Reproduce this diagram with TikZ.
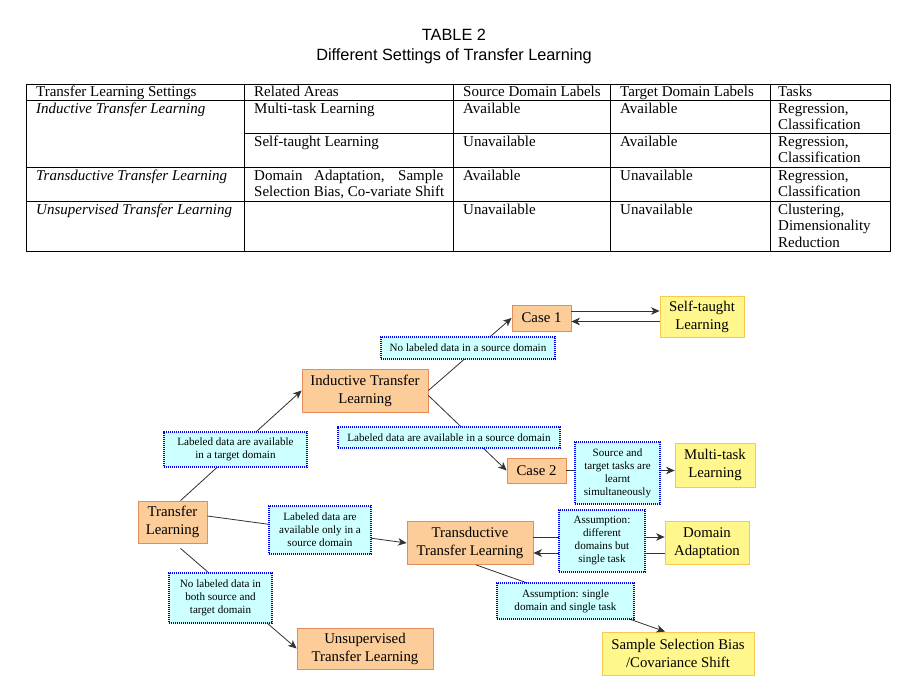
\documentclass[tikz,border=0pt]{standalone}
\usepackage{fontspec}
\setmainfont{Liberation Serif}
\newfontfamily\titlefont{Liberation Sans}
\usetikzlibrary{arrows.meta,calc}
\definecolor{orfill}{RGB}{252,204,153}
\definecolor{ordraw}{RGB}{228,140,90}
\definecolor{yefill}{RGB}{255,246,140}
\definecolor{yedraw}{RGB}{248,200,80}
\definecolor{cyfill}{RGB}{204,255,255}
\definecolor{bldraw}{RGB}{0,0,240}
\definecolor{lnc}{RGB}{50,50,50}
\begin{document}
\begin{tikzpicture}[x=1pt,y=-1pt,
 tabtxt/.style={anchor=base west,inner sep=0pt,font=\fontsize{15}{16}\selectfont},
 tabit/.style={anchor=base west,inner sep=0pt,font=\fontsize{15}{16}\selectfont\itshape},
 ttl/.style={anchor=base,inner sep=0pt,font=\titlefont\fontsize{16.3}{19}\selectfont},
 grid/.style={line width=0.8pt,black},
 obox/.style={draw=ordraw,fill=orfill,line width=0.8pt,align=center,inner sep=0pt,font=\fontsize{14.8}{18}\selectfont},
 ybox/.style={draw=yedraw,fill=yefill,line width=0.8pt,align=center,inner sep=0pt,font=\fontsize{14.8}{18}\selectfont},
 lbox/.style={draw=bldraw,fill=cyfill,line width=1.5pt,dash pattern=on 1.2pt off 0.8pt,align=center,inner sep=0pt,font=\fontsize{11.1}{13}\selectfont},
 conn/.style={draw=lnc,line width=0.8pt},
 arr/.style={conn,-{Stealth[length=8.5pt,width=7.5pt,inset=2.5pt]}}]
\fill[white] (0,0) rectangle (905,693);
\useasboundingbox (0,0) rectangle (905,693);

% title
\node[ttl] (title1) at (454,40.5) {TABLE 2};
\node[ttl] (title2) at (454,60) {Different Settings of Transfer Learning};

% table grid
\draw[grid] (26,84) rectangle (890,251);
\draw[grid] (26,100) -- (890,100);
\draw[grid] (244,133) -- (890,133);
\draw[grid] (26,167) -- (890,167);
\draw[grid] (26,201) -- (890,201);
\foreach \xx in {244,453,610,770} \draw[grid] (\xx,84) -- (\xx,251);

% header
\node[tabtxt] (h1) at (36,96) {Transfer Learning Settings};
\node[tabtxt] (h2) at (254,96) {Related Areas};
\node[tabtxt] (h3) at (463,96) {Source Domain Labels};
\node[tabtxt] (h4) at (620,96) {Target Domain Labels};
\node[tabtxt] (h5) at (778,96) {Tasks};
% row 1
\node[tabit] (a1) at (36,113) {Inductive Transfer Learning};
\node[tabtxt] (a2) at (254,113) {Multi-task Learning};
\node[tabtxt] (a3) at (463,113) {Available};
\node[tabtxt] (a4) at (620,113) {Available};
\node[tabtxt] (a5) at (778,113) {Regression,};
\node[tabtxt] (a6) at (778,129) {Classification};
% row 2
\node[tabtxt] (b2) at (254,146) {Self-taught Learning};
\node[tabtxt] (b3) at (463,146) {Unavailable};
\node[tabtxt] (b4) at (620,146) {Available};
\node[tabtxt] (b5) at (778,146) {Regression,};
\node[tabtxt] (b6) at (778,162) {Classification};
% row 3
\node[tabit] (c1) at (36,180) {Transductive Transfer Learning};
\node[tabtxt] (c2) at (254,180) {\makebox[189pt][s]{Domain Adaptation, Sample}};
\node[tabtxt] (c2b) at (254,196) {Selection Bias, Co-variate Shift};
\node[tabtxt] (c3) at (463,180) {Available};
\node[tabtxt] (c4) at (620,180) {Unavailable};
\node[tabtxt] (c5) at (778,180) {Regression,};
\node[tabtxt] (c6) at (778,196) {Classification};
% row 4
\node[tabit] (d1) at (36,214) {Unsupervised Transfer Learning};
\node[tabtxt] (d3) at (463,214) {Unavailable};
\node[tabtxt] (d4) at (620,214) {Unavailable};
\node[tabtxt] (d5) at (778,214) {Clustering,};
\node[tabtxt] (d6) at (778,230.5) {Dimensionality};
\node[tabtxt] (d7) at (778,247) {Reduction};

% main nodes
\node[obox,minimum width=69pt,minimum height=42pt] (tl) at (172.5,522) {Transfer\\Learning};
\node[obox,minimum width=126pt,minimum height=43pt] (ind) at (365,390.5) {Inductive Transfer\\Learning};
\node[obox,minimum width=59pt,minimum height=26pt] (case1) at (541.5,318) {Case 1};
\node[ybox,minimum width=84pt,minimum height=41pt] (self) at (702,316.5) {Self-taught\\Learning};
\node[obox,minimum width=59pt,minimum height=25pt] (case2) at (536.5,470.5) {Case 2};
\node[ybox,minimum width=80pt,minimum height=44pt] (multi) at (715,465) {Multi-task\\Learning};
\node[obox,minimum width=126pt,minimum height=43pt] (trans) at (470,543) {Transductive\\Transfer Learning};
\node[ybox,minimum width=84pt,minimum height=43pt] (da) at (707,543) {Domain\\Adaptation};
\node[obox,minimum width=136pt,minimum height=41pt] (unsup) at (365,648.5) {Unsupervised\\Transfer Learning};
\node[ybox,minimum width=152pt,minimum height=43pt] (ssb) at (678,653.5) {Sample Selection Bias\\/Covariance Shift};

% connectors
\draw[arr] ([xshift=8pt]tl.north) -- (ind.west);
\draw[arr] (ind.east) -- (case1.west);
\draw[arr] ([yshift=-5pt]ind.east) -- (case2.west);
\draw[arr] ([yshift=7pt]case1.east) -- ([yshift=7pt]case1.east -| self.west);
\draw[arr] ([yshift=-5pt]self.west) -- ([yshift=-5pt]self.west -| case1.east);
\draw[arr] (case2.east) -- (case2.east -| multi.west);
\draw[arr] ([yshift=6pt]tl.east) -- (trans.west);
\draw[arr] ([yshift=6pt]trans.east) -- ([yshift=6pt]trans.east -| da.west);
\draw[arr] ([yshift=-10pt]da.west) -- ([yshift=-10pt]da.west -| trans.east);
\draw[arr] ([xshift=6pt]trans.south) -- ([xshift=-13pt]ssb.north);
\draw[arr] ([xshift=8pt,yshift=-5pt]tl.south) -- (unsup.west);

% labels
\node[lbox,minimum width=143pt,minimum height=35pt] (l1) at (235.5,449.5) {Labeled data are available\\in a target domain};
\node[lbox,minimum width=174pt,minimum height=22pt] (l2) at (468,348) {No labeled data in a source domain};
\node[lbox,minimum width=222pt,minimum height=21pt] (l3) at (449,437.5) {Labeled data are available in a source domain};
\node[lbox,minimum width=85pt,minimum height=62pt] (l4) at (617.5,473) {Source and\\target tasks are\\learnt\\simultaneously};
\node[lbox,minimum width=102pt,minimum height=48pt] (l5) at (320,530) {Labeled data are\\available only in a\\source domain};
\node[lbox,minimum width=86pt,minimum height=62pt] (l6) at (602,541) {Assumption:\\different\\domains but\\single task};
\node[lbox,minimum width=103pt,minimum height=50pt] (l7) at (220.5,598) {No labeled data in\\both source and\\target domain};
\node[lbox,minimum width=137pt,minimum height=36pt] (l8) at (565.5,601) {Assumption: single\\domain and single task};
\end{tikzpicture}
\end{document}
